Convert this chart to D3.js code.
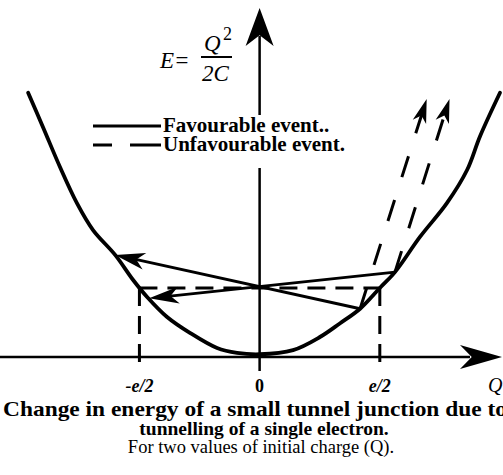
<!DOCTYPE html>
<html>
<head>
<meta charset="utf-8">
<script src="https://cdn.jsdelivr.net/npm/d3@7"></script>
<style>
  html, body { margin: 0; padding: 0; background: #fff; }
  svg { display: block; }
  text { font-family: "Liberation Serif", "Times New Roman", serif; fill: #000; }
</style>
</head>
<body>
<script>
// Charging energy E = Q^2/2C of the junction.
// Q in units of the electron charge e, E in units of e^2/8C (so E = 1 at Q = ±e/2).
const curveQ = [-0.963, -0.901, -0.830, -0.760, -0.693, -0.601, -0.527, -0.468, -0.385, -0.290,
                -0.177, -0.094, 0.0, 0.139, 0.251, 0.335, 0.418, 0.5, 0.563, 0.667, 0.779, 0.863, 0.917, 1.0];
const curveE = [3.83, 3.33, 2.75, 2.23, 1.84, 1.48, 1.12, 0.87, 0.58, 0.35,
                0.13, 0.06, 0.04, 0.10, 0.29, 0.49, 0.70, 1.0, 1.23, 1.74, 2.23, 2.71, 3.20, 3.83];

// Two initial charges, each tunnelling by -e (favourable) and +e (unfavourable)
const startQ = [0.418, 0.563];
const startE = [0.70, 1.23];
const favourableQ = [-0.601, -0.46];
const favourableE = [1.48, 0.85];
const unfavourableQ = [0.695, 0.79];
const unfavourableE = [3.74, 3.74];

// Axis ticks at ±e/2 and the energy level reached there
const tickQ = [-0.5, 0, 0.5];
const tickLabels = ["-e/2", "0", "e/2"];
const halfLevelE = 1.0;

const legendLabels = ["Favourable event..", "Unfavourable event."];
const captionLines = [
  "Change in energy of a small tunnel junction due to",
  "tunnelling of a single electron.",
  "For two values of initial charge (Q)."
];

const W = 503, H = 475;
const x = d3.scaleLinear().domain([-1.08, 1.0]).range([0, 500]);
const y = d3.scaleLinear().domain([0, 1]).range([357, 288]);

const svg = d3.select("body").append("svg").attr("width", W).attr("height", H);

// barbed arrowhead with its tip at (tx, ty), pointing along angle ang
function arrowHead(g, tx, ty, ang, L, Wd) {
  const notch = L * 0.72;
  const pts = [[0, 0], [-L, -Wd / 2], [-notch, 0], [-L, Wd / 2]];
  g.append("path")
    .attr("d", "M" + pts.map(p => p.join(",")).join("L") + "Z")
    .attr("transform", `translate(${tx},${ty}) rotate(${ang * 180 / Math.PI})`)
    .attr("fill", "#000");
}

const g = svg.append("g");

// axes
const x0 = x(0), y0 = y(0);
g.append("line").attr("x1", 0).attr("x2", 470).attr("y1", y0).attr("y2", y0)
  .attr("stroke", "#000").attr("stroke-width", 2.5);
arrowHead(g, 502, y0, 0, 42, 24);
g.append("line").attr("x1", x0).attr("x2", x0).attr("y1", 371).attr("y2", 36)
  .attr("stroke", "#000").attr("stroke-width", 2.5);
arrowHead(g, x0, 8, -Math.PI / 2, 38, 28);

// dashed guides at ±e/2
const guide = g.append("g").attr("stroke", "#000").attr("stroke-width", 3)
  .attr("stroke-dasharray", "18,10").attr("fill", "none");
guide.append("line").attr("x1", x(tickQ[0])).attr("x2", x(tickQ[2]))
  .attr("y1", y(halfLevelE)).attr("y2", y(halfLevelE));
[tickQ[0], tickQ[2]].forEach(q => {
  guide.append("line").attr("x1", x(q)).attr("x2", x(q))
    .attr("y1", y(halfLevelE)).attr("y2", y0 + 12);
});

// energy parabola
const pts = curveQ.map((q, i) => [x(q), y(curveE[i])]);
g.append("path").attr("d", d3.line().curve(d3.curveCatmullRom)(pts))
  .attr("fill", "none").attr("stroke", "#000").attr("stroke-width", 3.8)
  .attr("stroke-linecap", "round");

// tunnelling events
function eventArrow(q0, e0, q1, e1, dashed, L, Wd) {
  const ax = x(q0), ay = y(e0), bx = x(q1), by = y(e1);
  const ang = Math.atan2(by - ay, bx - ax);
  const back = L * 0.7;
  g.append("line").attr("x1", ax).attr("y1", ay)
    .attr("x2", bx - back * Math.cos(ang)).attr("y2", by - back * Math.sin(ang))
    .attr("stroke", "#000").attr("stroke-width", 3)
    .attr("stroke-dasharray", dashed ? "22,24" : null);
  arrowHead(g, bx, by, ang, L, Wd);
}
startQ.forEach((q, i) => {
  eventArrow(q, startE[i], favourableQ[i], favourableE[i], false, 30, 17);
  eventArrow(q, startE[i], unfavourableQ[i], unfavourableE[i], true, 24, 14);
});

// legend, on a white panel over the energy axis
const lg = svg.append("g");
lg.append("rect").attr("x", 162).attr("y", 115).attr("width", 196).attr("height", 53).attr("fill", "#fff");
lg.append("line").attr("x1", 93).attr("x2", 161).attr("y1", 126).attr("y2", 126)
  .attr("stroke", "#000").attr("stroke-width", 3);
lg.append("line").attr("x1", 93).attr("x2", 161).attr("y1", 145).attr("y2", 145)
  .attr("stroke", "#000").attr("stroke-width", 3).attr("stroke-dasharray", "19,18,31");
legendLabels.forEach((t, i) => {
  lg.append("text").attr("x", 163).attr("y", 132 + i * 19)
    .attr("font-size", 21).attr("font-weight", "bold").text(t);
});

// energy axis label E = Q^2 / 2C
const lab = svg.append("g").attr("font-style", "italic");
lab.append("text").attr("x", 160).attr("y", 68).attr("font-size", 23).text("E=");
lab.append("text").attr("x", 204).attr("y", 51).attr("font-size", 23).text("Q");
lab.append("text").attr("x", 223).attr("y", 40).attr("font-size", 18).attr("font-style", "normal").text("2");
lab.append("line").attr("x1", 201).attr("x2", 232).attr("y1", 57).attr("y2", 57)
  .attr("stroke", "#000").attr("stroke-width", 2);
lab.append("text").attr("x", 202).attr("y", 81).attr("font-size", 23).text("2C");

// charge-axis tick labels
svg.append("g").selectAll("text").data(tickQ).join("text")
  .attr("x", d => x(d)).attr("y", 392).attr("text-anchor", "middle")
  .attr("font-size", 18).attr("font-weight", "bold")
  .attr("font-style", (d, i) => tickLabels[i] === "0" ? "normal" : "italic")
  .text((d, i) => tickLabels[i]);
svg.append("text").attr("x", 488).attr("y", 392).attr("font-size", 20)
  .attr("font-style", "italic").text("Q");

// caption: first line spread across the full width
const capX = [255, 264, 261];
const capSize = [21, 19.5, 18.5];
const capWeight = ["bold", "bold", "normal"];
svg.append("g").selectAll("text").data(captionLines).join("text")
  .attr("x", (d, i) => capX[i]).attr("y", (d, i) => 416 + i * 18.5).attr("text-anchor", "middle")
  .attr("font-size", (d, i) => capSize[i]).attr("font-weight", (d, i) => capWeight[i])
  .each(function (d, i) {
    if (i === 0) d3.select(this).attr("textLength", 504).attr("lengthAdjust", "spacingAndGlyphs");
  })
  .text(d => d);
</script>
</body>
</html>
